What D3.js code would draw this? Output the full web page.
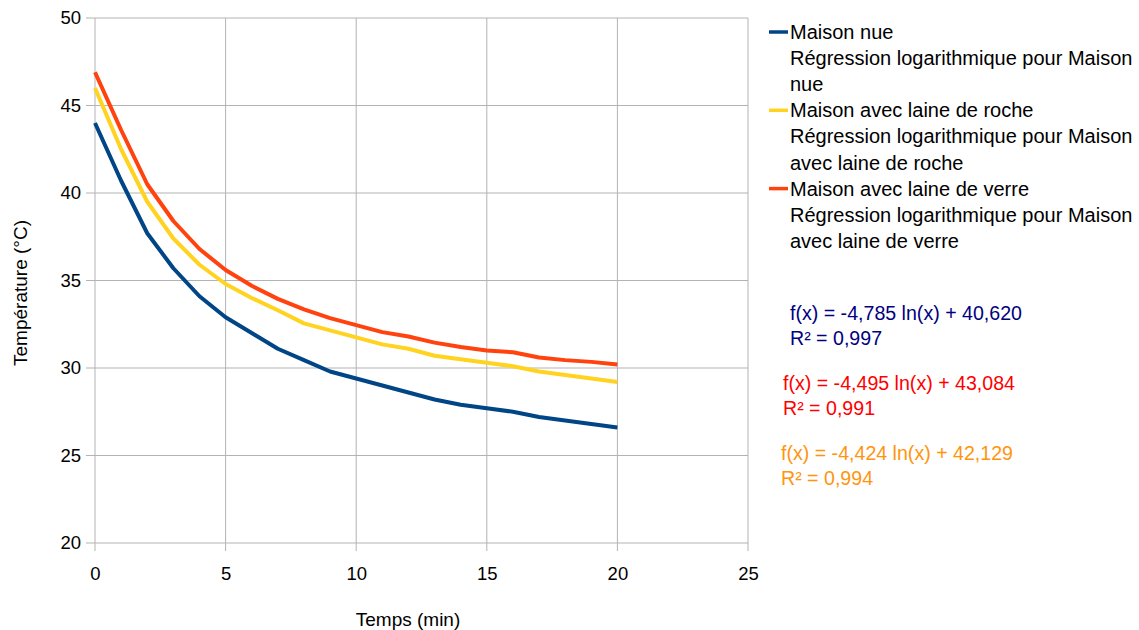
<!DOCTYPE html>
<html>
<head>
<meta charset="utf-8">
<script src="https://cdn.jsdelivr.net/npm/d3@7"></script>
<style>
  body { margin: 0; background: #fff; }
  text { font-family: "Liberation Sans", Arial, sans-serif; }
</style>
</head>
<body>
<div id="chart"></div>
<script>
// data
const times = [0, 1, 2, 3, 4, 5, 6, 7, 8, 9, 10, 11, 12, 13, 14, 15, 16, 17, 18, 19, 20];
const maisonNue = [44.0, 40.7, 37.7, 35.7, 34.1, 32.9, 32.0, 31.1, 30.45, 29.8, 29.4, 29.0, 28.6, 28.2, 27.9, 27.7, 27.5, 27.2, 27.0, 26.8, 26.6];
const laineRoche = [46.0, 42.5, 39.5, 37.4, 35.9, 34.8, 34.0, 33.3, 32.55, 32.15, 31.75, 31.35, 31.1, 30.7, 30.5, 30.3, 30.1, 29.8, 29.6, 29.4, 29.2];
const laineVerre = [46.9, 43.6, 40.5, 38.4, 36.8, 35.6, 34.7, 33.95, 33.35, 32.85, 32.45, 32.05, 31.8, 31.45, 31.2, 31.0, 30.9, 30.6, 30.45, 30.35, 30.2];
const xTicks = [0, 5, 10, 15, 20, 25];
const yTicks = [20, 25, 30, 35, 40, 45, 50];

const series = [
  { name: "Maison nue", values: maisonNue, color: "#004586" },
  { name: "Maison avec laine de roche", values: laineRoche, color: "#ffd320" },
  { name: "Maison avec laine de verre", values: laineVerre, color: "#ff420e" }
];

const legendRows = [
  { text: "Maison nue", color: "#004586" },
  { text: "Régression logarithmique pour Maison", color: null },
  { text: "nue", color: null },
  { text: "Maison avec laine de roche", color: "#ffd320" },
  { text: "Régression logarithmique pour Maison", color: null },
  { text: "avec laine de roche", color: null },
  { text: "Maison avec laine de verre", color: "#ff420e" },
  { text: "Régression logarithmique pour Maison", color: null },
  { text: "avec laine de verre", color: null }
];

const equations = [
  { lines: ["f(x) = -4,785 ln(x) + 40,620", "R² = 0,997"], color: "#000080", x: 790, y: 320 },
  { lines: ["f(x) = -4,495 ln(x) + 43,084", "R² = 0,991"], color: "#ff0000", x: 783, y: 390 },
  { lines: ["f(x) = -4,424 ln(x) + 42,129", "R² = 0,994"], color: "#ff950e", x: 781, y: 460 }
];

const w = 1139, h = 630;
const plotLeft = 95, plotRight = 748, plotTop = 18, plotBottom = 543;

const svg = d3.select("#chart").append("svg")
  .attr("width", w).attr("height", h);

const xScale = d3.scaleLinear().domain([0, 25]).range([plotLeft, plotRight]);
const yScale = d3.scaleLinear().domain([20, 50]).range([plotBottom, plotTop]);

// grid
svg.append("g")
  .selectAll("line")
  .data(yTicks)
  .enter().append("line")
  .attr("x1", plotLeft - 9).attr("x2", plotRight)
  .attr("y1", d => yScale(d)).attr("y2", d => yScale(d))
  .attr("stroke", "#b3b3b3").attr("stroke-width", 1);

svg.append("g")
  .selectAll("line")
  .data(xTicks)
  .enter().append("line")
  .attr("x1", d => xScale(d)).attr("x2", d => xScale(d))
  .attr("y1", plotTop).attr("y2", plotBottom + 8)
  .attr("stroke", "#b3b3b3").attr("stroke-width", 1);

// axes labels
const yAxis = d3.axisLeft(yScale).tickValues(yTicks).tickSize(0).tickPadding(14);
const gy = svg.append("g").attr("transform", `translate(${plotLeft},0)`).call(yAxis);
gy.select(".domain").remove();
gy.selectAll("text").attr("font-size", 18.5).attr("fill", "#000")
  .style("font-family", "Liberation Sans, Arial, sans-serif");

const xAxis = d3.axisBottom(xScale).tickValues(xTicks).tickSize(0).tickPadding(24);
const gx = svg.append("g").attr("transform", `translate(0,${plotBottom})`).call(xAxis);
gx.select(".domain").remove();
gx.selectAll("text").attr("font-size", 18.5).attr("fill", "#000")
  .style("font-family", "Liberation Sans, Arial, sans-serif");

// lines
const line = d3.line()
  .x((d, i) => xScale(times[i]))
  .y(d => yScale(d));

series.forEach(s => {
  svg.append("path")
    .datum(s.values)
    .attr("d", line)
    .attr("fill", "none")
    .attr("stroke", s.color)
    .attr("stroke-width", 4)
    .attr("stroke-linejoin", "round");
});

// axis titles
svg.append("text")
  .attr("x", 408).attr("y", 626)
  .attr("text-anchor", "middle")
  .attr("font-size", 19)
  .text("Temps (min)");

svg.append("text")
  .attr("transform", "translate(27,293) rotate(-90)")
  .attr("text-anchor", "middle")
  .attr("font-size", 19)
  .text("Température (°C)");

// legend
const lg = svg.append("g");
legendRows.forEach((r, i) => {
  const y = 32 + i * 26.1;
  if (r.color) {
    lg.append("line")
      .attr("x1", 769).attr("x2", 788)
      .attr("y1", y).attr("y2", y)
      .attr("stroke", r.color).attr("stroke-width", 3.5);
  }
  lg.append("text")
    .attr("x", 790).attr("y", y + 7)
    .attr("font-size", 20)
    .attr("fill", "#000")
    .text(r.text);
});

// regression equations
equations.forEach(eq => {
  eq.lines.forEach((t, i) => {
    svg.append("text")
      .attr("x", eq.x).attr("y", eq.y + i * 25)
      .attr("font-size", 19.6)
      .attr("fill", eq.color)
      .text(t);
  });
});
</script>
</body>
</html>
